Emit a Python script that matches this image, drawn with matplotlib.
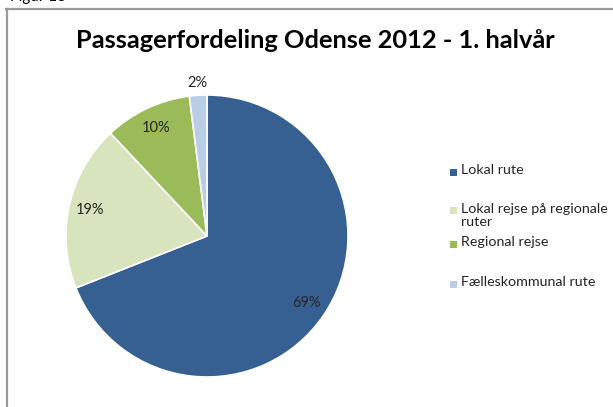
import matplotlib
matplotlib.use("Agg")
import matplotlib.pyplot as plt
from matplotlib.patches import Rectangle
from matplotlib.lines import Line2D

categories = ["Lokal rute", "Lokal rejse på regionale\nruter", "Regional rejse", "Fælleskommunal rute"]
values = [69, 19, 10, 2]
pct_labels = ["69%", "19%", "10%", "2%"]
colors = ["#366092", "#D7E4BD", "#9BBB59", "#B9CDE5"]
title = "Passagerfordeling Odense 2012 - 1. halvår"
caption = "Figur 13"

W, H = 613, 407
fig = plt.figure(figsize=(W / 100, H / 100), dpi=100)
fig.patch.set_facecolor("white")

def fx(px):
    return px / W

def fy(py):
    return 1 - py / H

# frame lines
fig.add_artist(Line2D([fx(6), 1], [fy(8.5), fy(8.5)], color="#9a9a9a", lw=1.6, transform=fig.transFigure))
fig.add_artist(Line2D([fx(6.5), fx(6.5)], [fy(8.5), 0], color="#9a9a9a", lw=1.6, transform=fig.transFigure))

fig.text(fx(10), fy(1.5), caption, fontsize=11, family="Lato", va="baseline", ha="left", color="#000000")

fig.text(fx(315), fy(41), title, fontsize=18.3, family="Lato", fontweight="bold",
         ha="center", va="center", color="#000000")

cx, cy, r = 207, 236, 141
ax = fig.add_axes([fx(cx - r), fy(cy + r), (2 * r) / W, (2 * r) / H])
wedges, texts, autotexts = ax.pie(
    values, colors=colors, startangle=90, counterclock=False,
    labels=None, autopct=lambda p: "", pctdistance=0.85,
    wedgeprops=dict(edgecolor="white", linewidth=1.2),
)
for w, at, lab in zip(wedges, autotexts, pct_labels):
    at.set_text(lab)
    at.set_fontsize(10.5)
    at.set_family("Lato")
    at.set_color("#262626")
for at in autotexts[-1:]:
    x, y = at.get_position()
    at.set_position((x * 1.09 / 0.85, y * 1.09 / 0.85))
ax.set_xlim(-1, 1)
ax.set_ylim(-1, 1)
ax.set_aspect("equal")
ax.axis("off")

# legend (manual, mimicking spreadsheet layout)
legend_y = [172, 211, 244, 284]
for lab, col, ly in zip(categories, colors, legend_y):
    fig.add_artist(Rectangle((fx(450), fy(ly + 3.5)), 7 / W, 7 / H, facecolor=col,
                             edgecolor="none", transform=fig.transFigure))
    fig.text(fx(461), fy(ly - 8), lab, fontsize=10.3, family="Lato", color="#262626",
             ha="left", va="top", linespacing=1.1)

fig.savefig("out.png", dpi=100, facecolor="white")
